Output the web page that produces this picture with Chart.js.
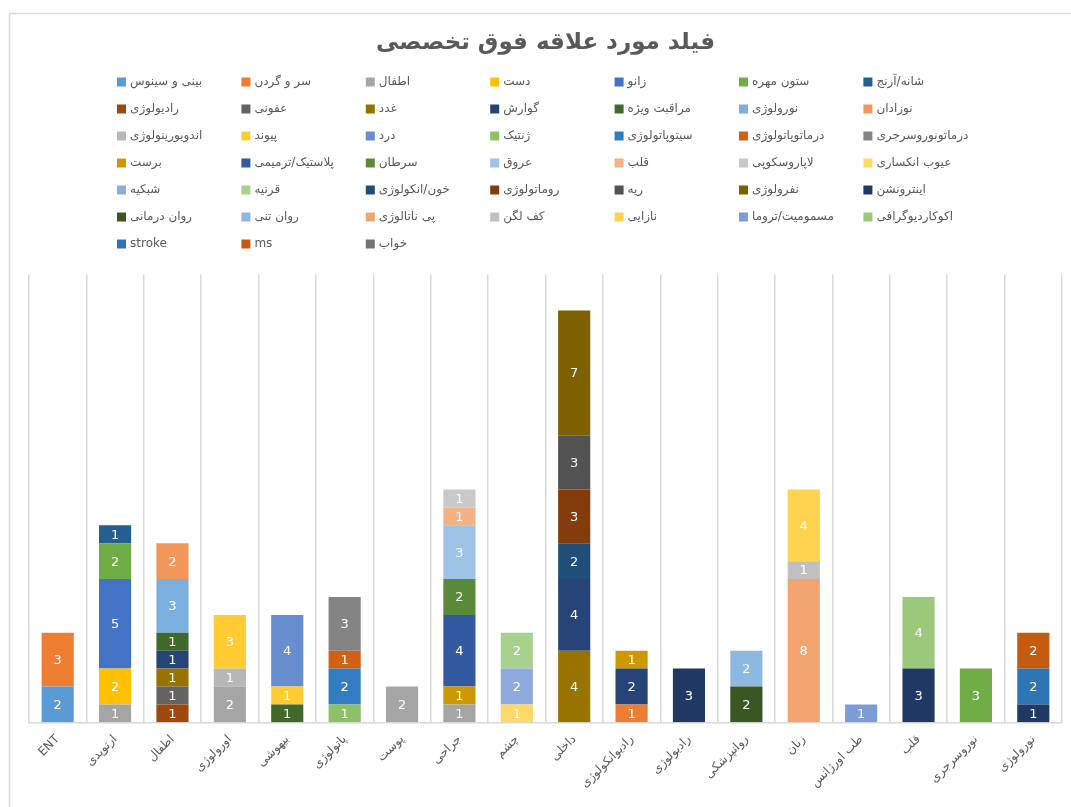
<!DOCTYPE html>
<html>
<head>
<meta charset="utf-8">
<script src="https://cdn.jsdelivr.net/npm/chart.js@4/dist/chart.umd.min.js"></script>
<style>
  html, body { margin: 0; padding: 0; background: #fff; overflow: hidden; }
  #wrap { position: relative; width: 1071px; height: 807px; }
  #fieldChart { display: block; }
</style>
</head>
<body>
<div id="wrap"><canvas id="fieldChart"></canvas></div>
<script>
// categories (x axis)
const categories = ['ENT', 'ارتوپدی', 'اطفال', 'اورولوژی', 'بیهوشی', 'پاتولوژی', 'پوست', 'جراحی', 'چشم',
  'داخلی', 'رادیوانکولوژی', 'رادیولوژی', 'روانپزشکی', 'زنان', 'طب اورژانس', 'قلب', 'نوروسرجری', 'نورولوژی'];

// series names, in legend order
const seriesNames = [
  'بینی و سینوس', 'سر و گردن', 'اطفال', 'دست', 'زانو', 'ستون مهره', 'شانه/آرنج',
  'رادیولوژی', 'عفونی', 'غدد', 'گوارش', 'مراقبت ویژه', 'نورولوژی', 'نوزادان',
  'اندویورینولوژی', 'پیوند', 'درد', 'ژنتیک', 'سیتوپاتولوژی', 'درماتوپاتولوژی', 'درماتونوروسرجری',
  'برست', 'پلاستیک/ترمیمی', 'سرطان', 'عروق', 'قلب', 'لاپاروسکوپی', 'عیوب انکساری',
  'شبکیه', 'قرنیه', 'خون/انکولوژی', 'روماتولوژی', 'ریه', 'نفرولوژی', 'اینترونشن',
  'روان درمانی', 'روان تنی', 'پی ناتالوژی', 'کف لگن', 'نازایی', 'مسمومیت/تروما', 'اکوکاردیوگرافی',
  'stroke', 'ms', 'خواب'
];

// office palette, one per series
const seriesColors = [
  '#5B9BD5', '#ED7D31', '#A5A5A5', '#FFC000', '#4472C4', '#70AD47', '#255E91',
  '#9E480E', '#636363', '#997300', '#264478', '#43682B', '#7CAFDD', '#F1975A',
  '#B7B7B7', '#FFCD33', '#698ED0', '#8CC168', '#327DC2', '#D26012', '#848484',
  '#CC9A00', '#335AA1', '#5A8A39', '#9DC3E6', '#F4B183', '#C9C9C9', '#FFD966',
  '#8FAADC', '#A9D18E', '#1F4E79', '#843C0C', '#525252', '#7F6000', '#203864',
  '#385723', '#8CB9E2', '#F2A46F', '#C0C0C0', '#FFD34D', '#7C9CD6', '#9AC97B',
  '#2E75B6', '#C55A11', '#747474'
];

// counts: one row per series, one column per category
const seriesValues = [
  [2,0,0,0,0,0,0,0,0,0,0,0,0,0,0,0,0,0],
  [3,0,0,0,0,0,0,0,0,0,1,0,0,0,0,0,0,0],
  [0,1,0,2,0,0,2,1,0,0,0,0,0,0,0,0,0,0],
  [0,2,0,0,0,0,0,0,0,0,0,0,0,0,0,0,0,0],
  [0,5,0,0,0,0,0,0,0,0,0,0,0,0,0,0,0,0],
  [0,2,0,0,0,0,0,0,0,0,0,0,0,0,0,0,3,0],
  [0,1,0,0,0,0,0,0,0,0,0,0,0,0,0,0,0,0],
  [0,0,1,0,0,0,0,0,0,0,0,0,0,0,0,0,0,0],
  [0,0,1,0,0,0,0,0,0,0,0,0,0,0,0,0,0,0],
  [0,0,1,0,0,0,0,0,0,4,0,0,0,0,0,0,0,0],
  [0,0,1,0,0,0,0,0,0,4,2,0,0,0,0,0,0,0],
  [0,0,1,0,1,0,0,0,0,0,0,0,0,0,0,0,0,0],
  [0,0,3,0,0,0,0,0,0,0,0,0,0,0,0,0,0,0],
  [0,0,2,0,0,0,0,0,0,0,0,0,0,0,0,0,0,0],
  [0,0,0,1,0,0,0,0,0,0,0,0,0,0,0,0,0,0],
  [0,0,0,3,1,0,0,0,0,0,0,0,0,0,0,0,0,0],
  [0,0,0,0,4,0,0,0,0,0,0,0,0,0,0,0,0,0],
  [0,0,0,0,0,1,0,0,0,0,0,0,0,0,0,0,0,0],
  [0,0,0,0,0,2,0,0,0,0,0,0,0,0,0,0,0,0],
  [0,0,0,0,0,1,0,0,0,0,0,0,0,0,0,0,0,0],
  [0,0,0,0,0,3,0,0,0,0,0,0,0,0,0,0,0,0],
  [0,0,0,0,0,0,0,1,0,0,1,0,0,0,0,0,0,0],
  [0,0,0,0,0,0,0,4,0,0,0,0,0,0,0,0,0,0],
  [0,0,0,0,0,0,0,2,0,0,0,0,0,0,0,0,0,0],
  [0,0,0,0,0,0,0,3,0,0,0,0,0,0,0,0,0,0],
  [0,0,0,0,0,0,0,1,0,0,0,0,0,0,0,0,0,0],
  [0,0,0,0,0,0,0,1,0,0,0,0,0,0,0,0,0,0],
  [0,0,0,0,0,0,0,0,1,0,0,0,0,0,0,0,0,0],
  [0,0,0,0,0,0,0,0,2,0,0,0,0,0,0,0,0,0],
  [0,0,0,0,0,0,0,0,2,0,0,0,0,0,0,0,0,0],
  [0,0,0,0,0,0,0,0,0,2,0,0,0,0,0,0,0,0],
  [0,0,0,0,0,0,0,0,0,3,0,0,0,0,0,0,0,0],
  [0,0,0,0,0,0,0,0,0,3,0,0,0,0,0,0,0,0],
  [0,0,0,0,0,0,0,0,0,7,0,0,0,0,0,0,0,0],
  [0,0,0,0,0,0,0,0,0,0,0,3,0,0,0,3,0,1],
  [0,0,0,0,0,0,0,0,0,0,0,0,2,0,0,0,0,0],
  [0,0,0,0,0,0,0,0,0,0,0,0,2,0,0,0,0,0],
  [0,0,0,0,0,0,0,0,0,0,0,0,0,8,0,0,0,0],
  [0,0,0,0,0,0,0,0,0,0,0,0,0,1,0,0,0,0],
  [0,0,0,0,0,0,0,0,0,0,0,0,0,4,0,0,0,0],
  [0,0,0,0,0,0,0,0,0,0,0,0,0,0,1,0,0,0],
  [0,0,0,0,0,0,0,0,0,0,0,0,0,0,0,4,0,0],
  [0,0,0,0,0,0,0,0,0,0,0,0,0,0,0,0,0,2],
  [0,0,0,0,0,0,0,0,0,0,0,0,0,0,0,0,0,2],
  [0,0,0,0,0,0,0,0,0,0,0,0,0,0,0,0,0,0]
];

const chartTitle = 'فیلد مورد علاقه فوق تخصصی';
const fontFamily = '"DejaVu Sans", sans-serif';
const textColor = '#595959';
const gridColor = '#D9D9D9';

Chart.defaults.font.family = fontFamily;
Chart.defaults.color = textColor;

// thin frame like the excel chart area (top and left edge)
const chartFrame = {
  id: 'chartFrame',
  beforeDraw(chart) {
    const ctx = chart.ctx;
    ctx.save();
    ctx.strokeStyle = gridColor;
    ctx.lineWidth = 1.5;
    ctx.beginPath();
    ctx.moveTo(9.5, chart.height);
    ctx.lineTo(9.5, 13.5);
    ctx.lineTo(chart.width, 13.5);
    ctx.stroke();
    ctx.restore();
  }
};

// legend laid out as a 7 column grid
const gridLegend = {
  id: 'gridLegend',
  afterDraw(chart) {
    const ctx = chart.ctx;
    ctx.save();
    ctx.font = '12px ' + fontFamily;
    ctx.textBaseline = 'middle';
    ctx.textAlign = 'left';
    chart.data.datasets.forEach((ds, i) => {
      const col = i % 7;
      const row = Math.floor(i / 7);
      const x = 117 + col * 124.4;
      const y = 82 + row * 27;
      ctx.fillStyle = ds.backgroundColor;
      ctx.fillRect(x, y - 4.5, 9, 9);
      ctx.fillStyle = textColor;
      ctx.fillText(ds.label, x + 13, y);
    });
    ctx.restore();
  }
};

// value in the middle of every segment
const segmentLabels = {
  id: 'segmentLabels',
  afterDatasetsDraw(chart) {
    const ctx = chart.ctx;
    ctx.save();
    ctx.font = '13px ' + fontFamily;
    ctx.fillStyle = '#ffffff';
    ctx.textAlign = 'center';
    ctx.textBaseline = 'middle';
    chart.data.datasets.forEach((ds, i) => {
      const meta = chart.getDatasetMeta(i);
      meta.data.forEach((bar, j) => {
        const v = ds.data[j];
        if (!v) return;
        const p = bar.getProps(['x', 'y', 'base'], true);
        ctx.fillText(String(v), p.x, (p.y + p.base) / 2 + 1);
      });
    });
    ctx.restore();
  }
};

const datasets = seriesNames.map((name, i) => ({
  label: name,
  data: seriesValues[i],
  backgroundColor: seriesColors[i],
  borderWidth: 0,
  barPercentage: 0.56,
  categoryPercentage: 1.0
}));

const ctx = document.getElementById('fieldChart').getContext('2d');
const chart = new Chart(ctx, {
  type: 'bar',
  data: { labels: categories, datasets: datasets },
  plugins: [chartFrame, gridLegend, segmentLabels],
  options: {
    responsive: true,
    maintainAspectRatio: false,
    animation: false,
    layout: { padding: { left: 29, right: 9, top: 0, bottom: 6 } },
    plugins: {
      legend: { display: false },
      tooltip: { enabled: false },
      title: {
        display: true,
        text: chartTitle,
        color: textColor,
        font: { size: 23, weight: 'bold', family: fontFamily },
        padding: { top: 29, bottom: 218 }
      }
    },
    scales: {
      x: {
        stacked: true,
        grid: { color: gridColor, lineWidth: 1.5, drawTicks: false, offset: true },
        border: { color: gridColor, width: 1.5 },
        ticks: { minRotation: 45, maxRotation: 45, padding: 10, color: textColor, font: { size: 12 } }
      },
      y: {
        stacked: true,
        display: false,
        min: 0,
        max: 25
      }
    }
  }
});
</script>
</body>
</html>
